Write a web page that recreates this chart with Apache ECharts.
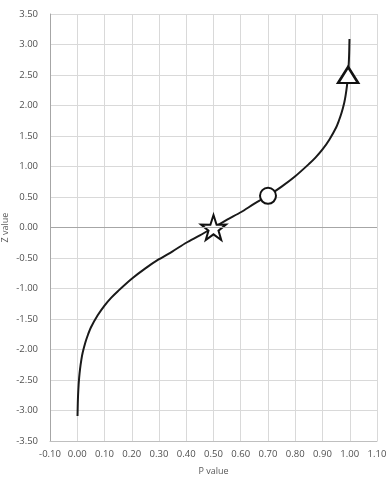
<!DOCTYPE html>
<html>
<head>
<meta charset="utf-8">
<script src="https://cdn.jsdelivr.net/npm/echarts@6/dist/echarts.min.js"></script>
<style>html,body{margin:0;padding:0;background:#fff;}#c{width:392px;height:480px;}</style>
</head>
<body>
<div id="c"></div>
<script>
const pValues = [0.001, 0.002, 0.003, 0.005, 0.007, 0.01, 0.015, 0.02, 0.03, 0.04, 0.05, 0.075, 0.10, 0.125, 0.15, 0.20, 0.25, 0.30, 0.35, 0.40, 0.45, 0.50, 0.55, 0.60, 0.65, 0.70, 0.75, 0.80, 0.85, 0.875, 0.90, 0.925, 0.95, 0.96, 0.97, 0.98, 0.985, 0.99, 0.993, 0.995, 0.997, 0.998, 0.999];
const zValues = [-3.09, -2.88, -2.75, -2.58, -2.46, -2.33, -2.17, -2.05, -1.88, -1.75, -1.64, -1.44, -1.28, -1.15, -1.04, -0.84, -0.67, -0.52, -0.39, -0.25, -0.13, 0.00, 0.13, 0.25, 0.39, 0.52, 0.67, 0.84, 1.04, 1.15, 1.28, 1.44, 1.64, 1.75, 1.88, 2.05, 2.17, 2.33, 2.46, 2.58, 2.75, 2.88, 3.09];
const starPoint = [0.50, 0.00];
const circlePoint = [0.70, 0.52];
const trianglePoint = [0.994, 2.50];
const xTitle = 'P value';
const yTitle = 'Z value';

const curve = pValues.map((p, i) => [p, zValues[i]]);
const starPath = 'path://M50,0 L61.8,35.1 L97.6,34.5 L69,56.6 L79.4,90.5 L50,70 L20.6,90.5 L31,56.6 L2.4,34.5 L38.2,35.1 Z';
const font = 'Open Sans';
const chart = echarts.init(document.getElementById('c'));
chart.setOption({
  animation: false,
  grid: {left: 50, right: 15, top: 14, bottom: 39, outerBoundsMode: 'none', containLabel: false},
  xAxis: {
    type: 'value', min: -0.1, max: 1.1, interval: 0.1,
    name: xTitle, nameLocation: 'middle', nameGap: 26, nameMoveOverlap: false,
    nameTextStyle: {color: '#595959', fontSize: 9, fontFamily: font},
    axisLine: {show: true, onZero: false, lineStyle: {color: '#bfbfbf', width: 1}},
    axisTick: {show: false},
    axisLabel: {color: '#505050', fontSize: 9.5, fontFamily: font, margin: 8, formatter: v => v.toFixed(2)},
    splitLine: {show: true, lineStyle: {color: '#d9d9d9', width: 1}}
  },
  yAxis: {
    type: 'value', min: -3.5, max: 3.5, interval: 0.5,
    name: yTitle, nameLocation: 'middle', nameGap: 40, nameRotate: 90, nameMoveOverlap: false,
    nameTextStyle: {color: '#595959', fontSize: 9, fontFamily: font},
    axisLine: {show: true, onZero: false, lineStyle: {color: '#a6a6a6', width: 1}},
    axisTick: {show: false},
    axisLabel: {color: '#505050', fontSize: 9.5, fontFamily: font, margin: 12, formatter: v => v.toFixed(2)},
    splitLine: {show: true, lineStyle: {color: '#d9d9d9', width: 1}}
  },
  series: [
    {
      type: 'line', data: curve, smooth: 0.3, showSymbol: false, symbol: 'none',
      lineStyle: {color: '#1a1a1a', width: 2},
      markLine: {silent: true, symbol: 'none', label: {show: false},
        lineStyle: {color: '#a6a6a6', width: 1, type: 'solid'},
        data: [{yAxis: 0}]},
      z: 2
    },
    {type: 'scatter', data: [starPoint], symbol: starPath, symbolSize: 25,
      itemStyle: {color: '#fff', borderColor: '#111', borderWidth: 2, opacity: 1}, z: 3},
    {type: 'scatter', data: [circlePoint], symbol: 'circle', symbolSize: 16,
      itemStyle: {color: '#fff', borderColor: '#111', borderWidth: 2, opacity: 1}, z: 3},
    {type: 'scatter', data: [trianglePoint], symbol: 'triangle', symbolSize: [20, 16],
      itemStyle: {color: '#fff', borderColor: '#111', borderWidth: 2.5, opacity: 1}, z: 3}
  ]
});
</script>
</body>
</html>
